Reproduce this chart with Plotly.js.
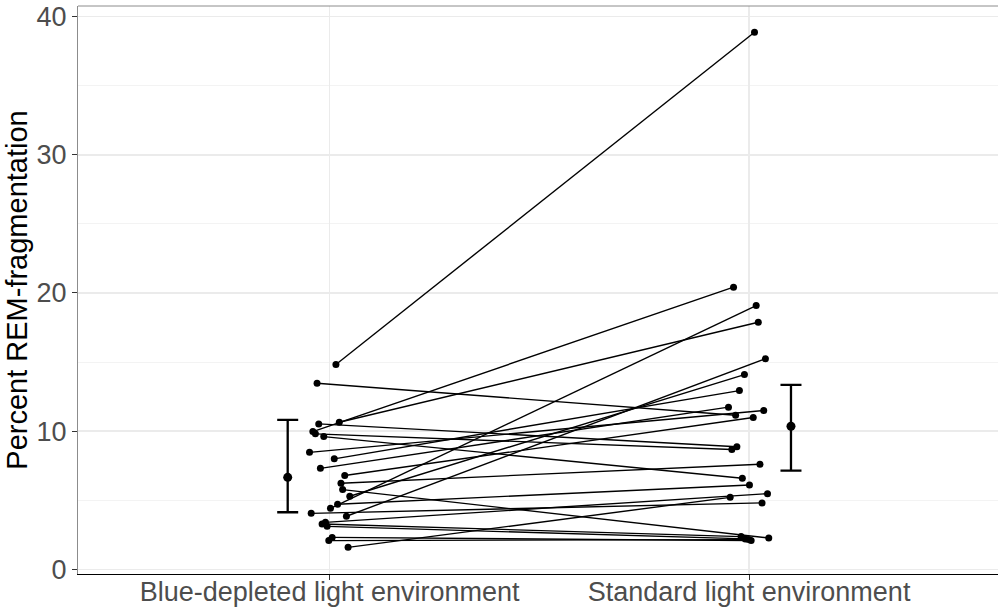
<!DOCTYPE html>
<html>
<head>
<meta charset="utf-8">
<script src="https://cdn.plot.ly/plotly-3.0.1.min.js"></script>
<style>html,body{margin:0;padding:0;background:#fff;}#chart{width:998px;height:608px;}</style>
</head>
<body>
<div id="chart"></div>
<script>
// Category labels
var categories = ["Blue-depleted light environment", "Standard light environment"];
// Per-participant values (paired): blue-depleted vs standard
var blueValues = [14.82, 13.46, 10.52, 10.64, 9.96, 9.80, 9.60, 8.46, 7.99, 7.30, 6.78, 6.22,
                  5.76, 5.28, 4.70, 4.41, 4.04, 3.83, 3.27, 3.39, 3.10, 2.07, 2.30, 1.58];
var standardValues = [38.88, 11.15, 8.86, 17.88, 20.42, 8.66, 6.58, 11.49, 12.93, 11.73, 10.98, 7.60,
                      2.26, 14.09, 6.10, 19.09, 4.80, 15.23, 2.36, 5.47, 2.19, 2.14, 2.07, 5.20];
// Horizontal jitter positions (category index units)
var blueJitter = [1.015, 0.970, 0.974, 1.023, 0.960, 0.966, 0.986, 0.952, 1.011, 0.978, 1.036, 1.027,
                  1.031, 1.048, 1.019, 1.002, 0.956, 1.040, 0.982, 0.990, 0.994, 0.998, 1.006, 1.044];
var standardJitter = [2.013, 1.968, 1.971, 2.022, 1.963, 1.959, 1.984, 2.035, 1.977, 1.951, 2.010, 2.026,
                      2.047, 1.989, 2.001, 2.017, 2.031, 2.039, 1.981, 2.044, 1.991, 1.999, 2.005, 1.955];
// Summary (mean with interval) per condition
var summaryX = [0.9, 2.1];
var summaryMean = [6.65, 10.35];
var summaryUpper = [10.81, 13.35];
var summaryLower = [4.12, 7.14];
var yTicks = [0, 10, 20, 30, 40];

var lx = [], ly = [];
for (var i = 0; i < blueValues.length; i++) {
  lx.push(blueJitter[i], standardJitter[i], null);
  ly.push(blueValues[i], standardValues[i], null);
}

var traces = [
  {
    type: "scatter", mode: "lines+markers", x: lx, y: ly,
    line: {color: "#000000", width: 1.4},
    marker: {color: "#000000", size: 7},
    hoverinfo: "skip", showlegend: false, cliponaxis: false
  },
  {
    type: "scatter", mode: "markers", x: summaryX, y: summaryMean,
    marker: {color: "#000000", size: 9},
    error_y: {
      type: "data", symmetric: false,
      array: summaryUpper.map(function (u, k) { return u - summaryMean[k]; }),
      arrayminus: summaryLower.map(function (l, k) { return summaryMean[k] - l; }),
      color: "#000000", thickness: 2.3, width: 10.5
    },
    showlegend: false
  }
];

var layout = {
  width: 998, height: 608,
  margin: {l: 78, r: 0, t: 6, b: 34},
  paper_bgcolor: "#ffffff", plot_bgcolor: "#ffffff",
  font: {family: "Liberation Sans, Arial, sans-serif", color: "#4d4d4d"},
  showlegend: false,
  xaxis: {
    range: [0.4, 2.5936],
    tickmode: "array", tickvals: [1, 2], ticktext: categories,
    ticks: "outside", ticklen: 5, tickcolor: "#333333", tickwidth: 1,
    ticklabelstandoff: -12,
    tickfont: {size: 27, color: "#4d4d4d"},
    showgrid: true, gridcolor: "#ebebeb", gridwidth: 1.3,
    showline: true, linecolor: "#000000", linewidth: 1.2,
    zeroline: false
  },
  yaxis: {
    range: [-0.35, 40.78],
    tickmode: "array", tickvals: yTicks,
    ticks: "outside", ticklen: 5, tickcolor: "#333333", tickwidth: 1,
    tickfont: {size: 27, color: "#4d4d4d"},
    showgrid: true, gridcolor: "#ebebeb", gridwidth: 1.3,
    minor: {tickmode: "array", tickvals: [5, 15, 25, 35], showgrid: true, gridcolor: "#f3f3f3", gridwidth: 1, ticks: ""},
    showline: true, linecolor: "#8c8c8c", linewidth: 1,
    zeroline: false,
    title: {text: "Percent REM-fragmentation", font: {size: 29, color: "#000000"}, standoff: 0}
  },
  shapes: [
    {type: "line", xref: "paper", yref: "paper", x0: 0, x1: 1, y0: 1, y1: 1,
     line: {color: "#8c8c8c", width: 1}}
  ]
};

Plotly.newPlot("chart", traces, layout, {displayModeBar: false, staticPlot: true});
</script>
</body>
</html>
